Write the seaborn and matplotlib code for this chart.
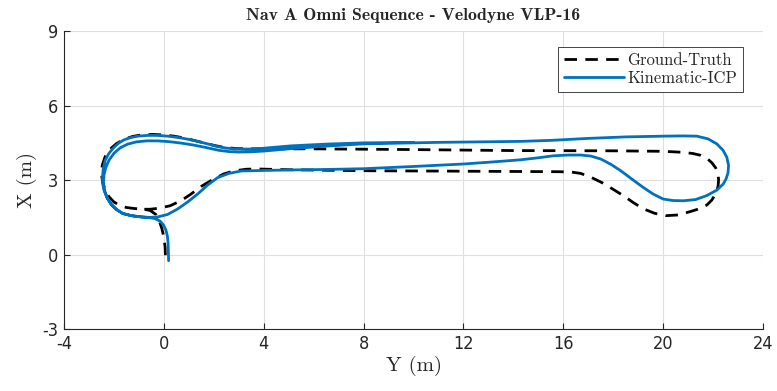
import numpy as np
import pandas as pd
import matplotlib
matplotlib.use("Agg")
import matplotlib.pyplot as plt
import seaborn as sns

# ==========================================
# Trajectory data, (Y, X) pairs
# ==========================================
gt_path = [
    (0.06, -0.02), (0.05, 0.3), (0.0, 0.7), (-0.08, 1.05), (-0.18, 1.35), (-0.32, 1.62),
    (-0.55, 1.78), (-0.8, 1.83), (-1.2, 1.86), (-1.5, 1.9), (-1.75, 1.98), (-2.0, 2.12),
    (-2.2, 2.33), (-2.35, 2.6), (-2.45, 2.9), (-2.5, 3.25), (-2.47, 3.6), (-2.35, 3.95),
    (-2.15, 4.25), (-1.9, 4.47), (-1.6, 4.64), (-1.25, 4.76), (-0.9, 4.82), (-0.45, 4.84),
    (0.0, 4.82), (0.4, 4.77), (0.8, 4.7), (1.2, 4.6), (1.6, 4.5), (2.0, 4.4), (2.4, 4.32),
    (2.9, 4.27), (3.5, 4.26), (6.0, 4.26), (10.0, 4.23), (14.0, 4.19), (18.0, 4.18),
    (20.0, 4.16), (20.8, 4.12), (21.2, 4.07), (21.5, 4.0), (21.75, 3.88), (21.95, 3.7),
    (22.1, 3.5), (22.2, 3.3), (22.22, 3.0), (22.2, 2.75), (22.1, 2.45), (21.95, 2.2),
    (21.75, 2.0), (21.45, 1.85), (21.1, 1.74), (20.6, 1.6), (20.1, 1.57), (19.65, 1.67),
    (19.2, 1.85), (18.8, 2.1), (18.4, 2.38), (17.95, 2.66), (17.55, 2.9), (17.1, 3.12),
    (16.7, 3.27), (16.3, 3.33), (15.8, 3.34), (12.0, 3.36), (8.0, 3.38), (5.0, 3.42),
    (3.7, 3.45), (3.3, 3.44), (2.8, 3.37), (2.4, 3.25), (1.95, 3.02), (1.5, 2.75),
    (1.1, 2.45), (0.7, 2.18), (0.25, 1.97), (-0.2, 1.87), (-0.55, 1.83), (-0.8, 1.83),
]

icp_path = [
    # start and first pass of the left loop (inner)
    (0.19, -0.24), (0.18, 0.1), (0.17, 0.45), (0.14, 0.75), (0.08, 1.0), (-0.02, 1.2),
    (-0.15, 1.35), (-0.35, 1.45), (-0.6, 1.5), (-0.9, 1.52), (-1.3, 1.57), (-1.65, 1.66),
    (-1.9, 1.82), (-2.12, 2.04), (-2.28, 2.3), (-2.38, 2.6), (-2.42, 2.9), (-2.4, 3.2),
    (-2.33, 3.5), (-2.2, 3.8), (-2.0, 4.08), (-1.75, 4.3), (-1.45, 4.45), (-1.1, 4.54),
    (-0.7, 4.58), (-0.25, 4.58), (0.2, 4.55), (0.7, 4.49), (1.2, 4.41), (1.7, 4.31),
    (2.2, 4.2), (2.6, 4.15), (3.0, 4.13), (3.5, 4.14), (4.0, 4.17), (5.0, 4.26),
    (6.5, 4.37), (8.0, 4.46), (11.0, 4.52), (14.3, 4.56), (15.5, 4.6), (17.0, 4.68),
    (18.5, 4.74), (20.0, 4.77),
    # right loop
    (20.8, 4.78), (21.35, 4.77), (21.8, 4.66), (22.15, 4.46), (22.4, 4.2), (22.55, 3.92),
    (22.62, 3.6), (22.6, 3.3), (22.52, 3.05), (22.41, 2.85), (22.15, 2.6), (21.75, 2.38),
    (21.3, 2.22), (20.81, 2.17), (20.4, 2.18), (20.0, 2.24), (19.6, 2.44), (19.2, 2.71),
    (18.75, 3.04), (18.3, 3.38), (17.9, 3.64), (17.5, 3.85), (17.1, 3.97), (16.7, 4.01),
    (16.2, 4.01), (15.6, 3.98), (15.0, 3.9), (14.3, 3.82), (13.0, 3.72), (12.0, 3.65),
    (10.0, 3.55), (8.0, 3.46), (6.5, 3.43), (5.0, 3.41), (4.0, 3.39), (3.1, 3.37),
    (2.6, 3.27), (2.15, 3.1), (1.75, 2.8), (1.35, 2.44), (0.95, 2.12), (0.55, 1.84),
    (0.15, 1.62), (-0.25, 1.52), (-0.6, 1.5), (-0.9, 1.52),
    # second pass of the left loop (outer)
    (-1.3, 1.57), (-1.65, 1.66), (-1.9, 1.82), (-2.12, 2.04), (-2.28, 2.3), (-2.4, 2.6),
    (-2.45, 2.85), (-2.46, 3.1), (-2.43, 3.45), (-2.35, 3.8), (-2.2, 4.08), (-2.0, 4.32),
    (-1.8, 4.5), (-1.6, 4.62), (-1.35, 4.71), (-1.05, 4.77), (-0.65, 4.8), (-0.25, 4.8),
    (0.15, 4.77), (0.55, 4.72), (0.95, 4.65), (1.35, 4.56), (1.75, 4.46), (2.15, 4.35),
    (2.5, 4.29), (2.8, 4.26), (3.3, 4.25), (3.75, 4.26), (4.4, 4.32), (5.1, 4.38),
    (6.5, 4.45), (8.0, 4.5), (10.0, 4.52),
]

x_ticks = [-4, 0, 4, 8, 12, 16, 20, 24]
y_ticks = [-3, 0, 3, 6, 9]

gt = pd.DataFrame(gt_path, columns=["Y", "X"])
icp = pd.DataFrame(icp_path, columns=["Y", "X"])

# ==========================================
# Plot
# ==========================================
sns.set_style("ticks")
plt.rcParams["axes.unicode_minus"] = False

fig = plt.figure(figsize=(7.77, 3.91), dpi=100)
ax = fig.add_axes([0.0824, 0.1578, 0.8996, 0.7629])

sns.lineplot(data=gt, x="Y", y="X", sort=False, estimator=None, ax=ax,
             color="black", lw=2, ls=(0, (4.5, 3)), label="Ground-Truth")
sns.lineplot(data=icp, x="Y", y="X", sort=False, estimator=None, ax=ax,
             color="#0072BD", lw=2, label="Kinematic-ICP")

ax.set_xlim(-4, 24)
ax.set_ylim(-3, 9)
ax.set_xticks(x_ticks)
ax.set_yticks(y_ticks)
ax.grid(True, color="#dfdfdf", lw=0.8)
ax.set_axisbelow(True)
for s in ["top", "right"]:
    ax.spines[s].set_visible(False)
for s in ["left", "bottom"]:
    ax.spines[s].set_color("#262626")
    ax.spines[s].set_linewidth(0.8)
ax.tick_params(direction="in", length=4, labelsize=13, colors="#262626", pad=4)
for lab in ax.get_xticklabels() + ax.get_yticklabels():
    lab.set_fontstretch("condensed")

ax.set_xlabel("Y (m)", family="cmr10", fontsize=15, labelpad=2)
ax.set_ylabel("X (m)", family="cmr10", fontsize=15, labelpad=4)
ax.set_title("Nav A Omni Sequence - Velodyne VLP-16", family="cmb10",
             fontsize=12.8, pad=8)

leg = ax.legend(loc="upper right", bbox_to_anchor=(0.9714, 0.9464),
                prop={"family": "cmr10", "size": 12},
                handlelength=3.6, handletextpad=0.2, borderpad=0.35,
                labelspacing=0.15, fancybox=False, framealpha=1,
                borderaxespad=0)
leg.get_frame().set_edgecolor("#262626")
leg.get_frame().set_linewidth(0.6)

plt.savefig("out.png", dpi=100)
